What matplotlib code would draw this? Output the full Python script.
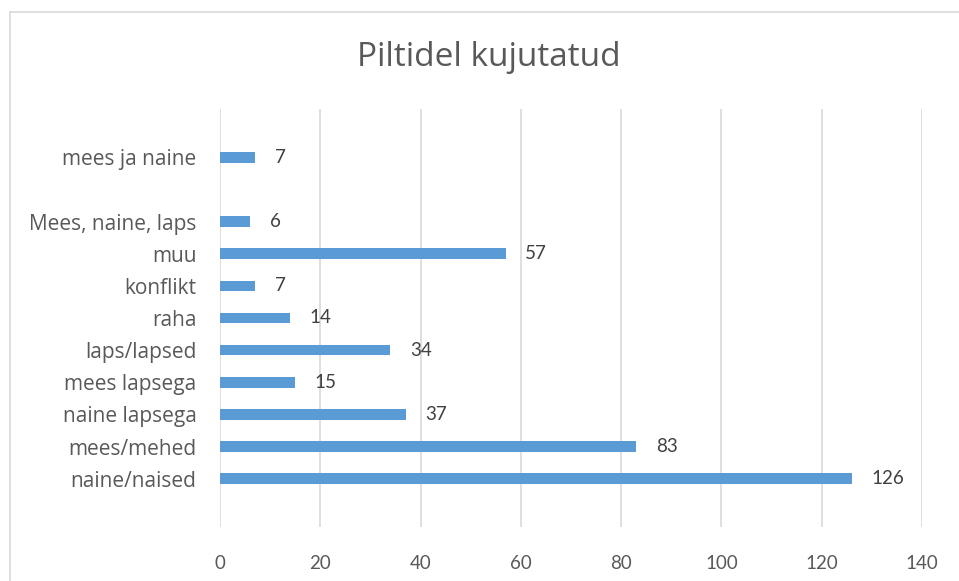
import matplotlib.pyplot as plt
from matplotlib.lines import Line2D

# categories bottom to top (blank slot between "Mees, naine, laps" and "mees ja naine")
categories = ["naine/naised", "mees/mehed", "naine lapsega", "mees lapsega",
              "laps/lapsed", "raha", "konflikt", "muu", "Mees, naine, laps",
              "", "mees ja naine"]
counts = [126, 83, 37, 15, 34, 14, 7, 57, 6, None, 7]
x_ticks = [0, 20, 40, 60, 80, 100, 120, 140]

TEXT = "#595959"
BAR = "#5B9BD5"
GRID = "#D9D9D9"

plt.rcParams["font.family"] = ["Lato", "DejaVu Sans"]

fig = plt.figure(figsize=(9.59, 5.81), dpi=100)
ax = fig.add_axes([220 / 959, 54 / 581, 702 / 959, 418 / 581])

pos = list(range(len(categories)))
vals = [v if v is not None else 0 for v in counts]
ax.barh(pos, vals, height=0.33, color=BAR, zorder=3)

for p, v in zip(pos, counts):
    if v is None:
        continue
    ax.annotate(str(v), (v, p), xytext=(14, 0), textcoords="offset points",
                va="center", ha="left", fontsize=13.5, color="#404040")

ax.set_xlim(0, 140)
ax.set_ylim(-1.5, len(categories) + 0.5)
ax.set_xticks(x_ticks)
ax.set_yticks(pos)
ax.set_yticklabels(categories, family=["Open Sans", "DejaVu Sans"], fontsize=15)
ax.tick_params(axis="x", length=0, labelsize=13.5, labelcolor=TEXT, pad=20)
ax.tick_params(axis="y", length=0, labelcolor=TEXT, pad=17)
ax.grid(axis="x", color=GRID, linewidth=1.2, zorder=0)
for s in ax.spines.values():
    s.set_visible(False)

fig.text(489 / 959, 1 - 58 / 581, "Piltidel kujutatud", ha="center", va="center",
         fontsize=24, color=TEXT, family=["Open Sans", "DejaVu Sans"])

# chart frame (only left and top edges are visible)
fig.add_artist(Line2D([9.5 / 959, 9.5 / 959], [0, 1 - 12 / 581], color="#D9D9D9", linewidth=1.2))
fig.add_artist(Line2D([9.5 / 959, 1], [1 - 12 / 581, 1 - 12 / 581], color="#D9D9D9", linewidth=1.2))

fig.savefig("out.png", dpi=100)
